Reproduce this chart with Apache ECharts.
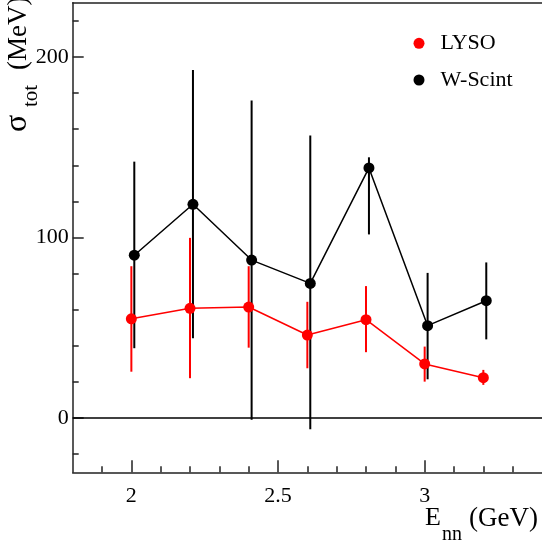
<!DOCTYPE html>
<html>
<head>
<meta charset="utf-8">
<script src="https://cdn.jsdelivr.net/npm/echarts@6/dist/echarts.min.js"></script>
<style>
  html, body { margin: 0; padding: 0; background: #fff; }
  #chart { width: 542px; height: 550px; }
</style>
</head>
<body>
<div id="chart"></div>
<script>
// Energy points (GeV); the W-Scint points sit slightly right of the LYSO ones
const energyLYSO   = [2.0, 2.2, 2.4, 2.6, 2.8, 3.0, 3.2];
const energyWScint = [2.01, 2.21, 2.41, 2.61, 2.81, 3.01, 3.21];

// sigma_tot (MeV) with lower / upper ends of the error bars
const sigmaLYSO = [55.0, 60.8, 61.5, 46.0, 54.5, 30.0, 22.4];
const lysoLow   = [25.7, 22.1, 39.0, 27.6, 36.5, 20.2, 18.4];
const lysoHigh  = [84.1, 99.8, 84.1, 64.4, 73.1, 39.6, 26.7];

const sigmaWScint = [90.2, 118.4, 87.5, 74.6, 138.5, 51.2, 65.0];
const wscintLow   = [38.7, 44.2, -0.9, -6.1, 101.7, 21.5, 43.6];
const wscintHigh  = [142.0, 192.8, 175.9, 156.5, 144.4, 80.4, 86.2];

// Axis ticks
const xMajorTicks = [2, 2.5, 3];
const xMinorTicks = [1.9, 2.1, 2.2, 2.3, 2.4, 2.6, 2.7, 2.8, 2.9, 3.1, 3.2, 3.3];
const yMajorTicks = [0, 100, 200];
const yMinorTicks = [-20, 20, 40, 60, 80, 120, 140, 160, 180, 220];

const FONT = 'Liberation Serif';
const AXIS_COLOR = '#222';

const chart = echarts.init(document.getElementById('chart'), null, { renderer: 'canvas' });

function pairs(xs, ys) {
  return xs.map((x, i) => [x, ys[i]]);
}

function errorBarSeries(name, xs, lo, hi, color, z) {
  return {
    name: name,
    type: 'custom',
    xAxisIndex: 0,
    yAxisIndex: 0,
    z: z,
    silent: true,
    itemStyle: { color: color },
    data: xs.map((x, i) => [x, lo[i], hi[i]]),
    encode: { x: 0, y: [1, 2] },
    renderItem: function (params, api) {
      const a = api.coord([api.value(0), api.value(1)]);
      const b = api.coord([api.value(0), api.value(2)]);
      return {
        type: 'line',
        shape: { x1: a[0], y1: a[1], x2: b[0], y2: b[1] },
        style: { stroke: color, lineWidth: 2 }
      };
    }
  };
}

function valueAxisBase(min, max) {
  return { type: 'value', min: min, max: max, splitLine: { show: false } };
}

const option = {
  backgroundColor: '#fff',
  animation: false,
  grid: { left: 72.7, top: 2.7, width: 470.1, height: 469.6, containLabel: false },
  xAxis: [
    Object.assign(valueAxisBase(1.8, 3.4), {
      position: 'bottom',
      axisLine: { show: true, onZero: false, lineStyle: { color: AXIS_COLOR, width: 1.5 } },
      axisTick: { show: true, inside: true, length: 12, customValues: xMajorTicks,
                  lineStyle: { color: AXIS_COLOR, width: 1.5 } },
      axisLabel: { customValues: xMajorTicks, fontFamily: FONT, fontSize: 22, color: '#000', margin: 13 }
    }),
    Object.assign(valueAxisBase(1.8, 3.4), {
      position: 'bottom',
      axisLine: { show: false, onZero: false },
      axisTick: { show: true, inside: true, length: 6, customValues: xMinorTicks,
                  lineStyle: { color: AXIS_COLOR, width: 1.5 } },
      axisLabel: { show: false }
    }),
    Object.assign(valueAxisBase(1.8, 3.4), {
      position: 'top',
      axisLine: { show: true, onZero: false, lineStyle: { color: AXIS_COLOR, width: 1.5 } },
      axisTick: { show: false },
      axisLabel: { show: false }
    })
  ],
  yAxis: [
    Object.assign(valueAxisBase(-30, 230), {
      position: 'left',
      axisLine: { show: true, onZero: false, lineStyle: { color: AXIS_COLOR, width: 1.5 } },
      axisTick: { show: true, inside: true, length: 11, customValues: yMajorTicks,
                  lineStyle: { color: AXIS_COLOR, width: 1.5 } },
      axisLabel: { customValues: yMajorTicks, fontFamily: FONT, fontSize: 22, color: '#000', margin: 4 }
    }),
    Object.assign(valueAxisBase(-30, 230), {
      position: 'left',
      axisLine: { show: false, onZero: false },
      axisTick: { show: true, inside: true, length: 6, customValues: yMinorTicks,
                  lineStyle: { color: AXIS_COLOR, width: 1.5 } },
      axisLabel: { show: false }
    })
  ],
  legend: {
    orient: 'vertical',
    left: 408.5,
    top: 27.3,
    icon: 'circle',
    itemWidth: 33,
    itemHeight: 11,
    itemGap: 14.7,
    data: [
      { name: 'LYSO', itemStyle: { color: '#ff0000' } },
      { name: 'W-Scint', itemStyle: { color: '#000' } }
    ],
    textStyle: { fontFamily: FONT, fontSize: 22, color: '#000', lineHeight: 22 }
  },
  series: [
    {
      name: 'zero',
      type: 'line',
      data: [],
      xAxisIndex: 0,
      yAxisIndex: 0,
      z: 1,
      markLine: {
        silent: true,
        symbol: 'none',
        label: { show: false },
        lineStyle: { color: '#000', width: 1.5, type: 'solid' },
        data: [{ yAxis: 0 }]
      }
    },
    errorBarSeries('W-Scint', energyWScint, wscintLow, wscintHigh, '#000', 2),
    {
      name: 'W-Scint',
      type: 'line',
      z: 3,
      data: pairs(energyWScint, sigmaWScint),
      symbol: 'circle',
      symbolSize: 11,
      itemStyle: { color: '#000' },
      lineStyle: { color: '#000', width: 1.5 }
    },
    errorBarSeries('LYSO', energyLYSO, lysoLow, lysoHigh, '#ff0000', 4),
    {
      name: 'LYSO',
      type: 'line',
      z: 5,
      data: pairs(energyLYSO, sigmaLYSO),
      symbol: 'circle',
      symbolSize: 11,
      itemStyle: { color: '#ff0000' },
      lineStyle: { color: '#ff0000', width: 1.5 }
    }
  ],
  graphic: [
    // x-axis title: E_nn (GeV)
    { type: 'text', x: 425, y: 518.5,
      style: { text: 'E', font: '26px "Liberation Serif"', fill: '#000', textVerticalAlign: 'middle' } },
    { type: 'text', x: 442, y: 535,
      style: { text: 'nn', font: '20px "Liberation Serif"', fill: '#000', textVerticalAlign: 'middle' } },
    { type: 'text', x: 469, y: 518.5,
      style: { text: '(GeV)', font: '27px "Liberation Serif"', fill: '#000', textVerticalAlign: 'middle' } },
    // y-axis title: sigma_tot (MeV), rotated
    { type: 'text', x: 18, y: 132, rotation: Math.PI / 2,
      style: { text: 'σ', font: '32px "Liberation Serif"', fill: '#000', textVerticalAlign: 'middle' } },
    { type: 'text', x: 31, y: 107, rotation: Math.PI / 2,
      style: { text: 'tot', font: '21px "Liberation Serif"', fill: '#000', textVerticalAlign: 'middle' } },
    { type: 'text', x: 19, y: 70, rotation: Math.PI / 2,
      style: { text: '(MeV)', font: '27px "Liberation Serif"', fill: '#000', textVerticalAlign: 'middle' } }
  ]
};

chart.setOption(option);
</script>
</body>
</html>
